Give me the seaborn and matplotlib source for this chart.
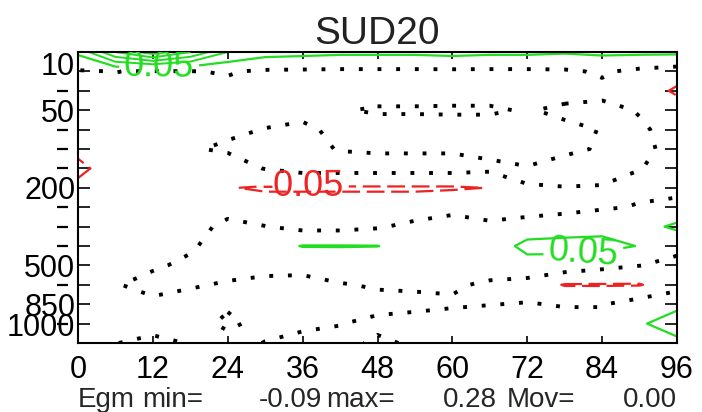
import numpy as np
import matplotlib
matplotlib.use('Agg')
import matplotlib.pyplot as plt
import seaborn as sns

sns.set_theme(style='ticks')
plt.rcParams['font.family'] = ['Liberation Sans', 'DejaVu Sans']

# forecast hour (x) and pressure levels (y, one row each)
hours = [0, 6, 12, 18, 24, 30, 36, 42, 48, 54, 60, 66, 72, 78, 84, 90, 96]
levels_hpa = [10, 20, 30, 50, 70, 100, 150, 200, 250, 300, 400, 500, 700, 850, 925, 1000]
ylabels = ['10', '', '-', '50', '-', '-', '-', '200', '-', '-', '-', '500', '-', '850', '-', '1000']
xticks = [0, 12, 24, 36, 48, 60, 72, 84, 96]

# field values, one list per level
p10 = [0.06, 0.2, 0.28, 0.2, 0.1, 0.07, 0.065, 0.06, 0.06, 0.06, 0.065, 0.06, 0.06, 0.055, 0.06, 0.06, 0.06]
p20 = [-0.004, 0.001, -0.005, -0.002, 0.003, -0.006, -0.007, -0.008, -0.008, -0.008, -0.008, -0.008, -0.008, -0.006, 0.005, -0.01, -0.02]
p30 = [-0.015, -0.015, -0.015, -0.012, -0.01, -0.012, -0.015, -0.012, -0.012, -0.012, -0.01, -0.01, -0.012, -0.012, -0.01, -0.015, -0.06]
p50 = [-0.02, -0.02, -0.02, -0.015, -0.012, -0.012, -0.012, -0.002, 0.003, 0.003, 0.003, 0.003, -0.002, 0.006, 0.01, -0.002, -0.02]
p70 = [-0.02, -0.02, -0.02, -0.01, -0.006, 0.001, 0.008, -0.01, -0.012, -0.012, -0.01, -0.01, -0.01, -0.006, 0.001, 0.004, -0.01]
p100 = [-0.04, -0.025, -0.025, -0.003, 0.005, 0.01, 0.01, -0.002, -0.005, -0.005, -0.005, -0.012, -0.03, -0.004, 0.002, 0.006, -0.008]
p150 = [-0.06, -0.03, -0.03, -0.02, -0.02, 0.002, 0.017, 0.017, 0.017, 0.017, 0.017, 0.01, 0.004, 0.008, 0.006, 0.001, -0.01]
p200 = [-0.04, -0.025, -0.03, -0.035, -0.048, -0.055, -0.055, -0.055, -0.055, -0.055, -0.055, -0.049, -0.001, -0.0005, -0.001, -0.01, -0.012]
p250 = [-0.02, -0.02, -0.025, -0.02, -0.012, -0.03, -0.03, -0.03, -0.03, -0.03, -0.012, -0.014, -0.03, -0.015, -0.005, 0.003, 0.012]
p300 = [-0.015, -0.015, -0.02, -0.012, 0.008, 0.001, -0.013, -0.013, -0.005, 0.013, 0.018, 0.006, 0.03, 0.03, 0.035, 0.03, 0.06]
p400 = [-0.012, -0.012, -0.012, -0.004, 0.015, 0.03, 0.052, 0.052, 0.051, 0.03, 0.025, 0.03, 0.06, 0.065, 0.065, 0.048, 0.01]
p500 = [-0.01, -0.01, -0.004, 0.006, 0.008, 0.011, 0.01, 0.018, 0.015, 0.015, 0.012, 0.02, 0.037, 0.0285, 0.0133, 0.001, -0.01]
p700 = [-0.008, -0.002, 0.01, 0.002, -0.002, -0.009, -0.01, -0.002, 0.003, 0.0035, 0.005, -0.006, -0.02, -0.053, -0.053, -0.053, -0.02]
p850 = [-0.01, -0.01, -0.007, -0.008, -0.004, -0.012, -0.012, -0.008, -0.009, -0.0065, -0.005, -0.001, 0.0022, -0.003, -0.003, 0.0227, 0.04]
p925 = [-0.01, -0.012, -0.015, -0.012, 0.006, -0.01, -0.004, -0.001, 0.007, 0.01, 0.02, 0.02, 0.02, 0.017, 0.017, 0.045, 0.07]
p1000 = [-0.01, -0.001, 0.01, -0.002, -0.01, 0.001, 0.006, 0.009, -0.005, 0.004, 0.01, 0.012, 0.015, 0.015, 0.015, 0.03, 0.04]

Z = np.array([p10, p20, p30, p50, p70, p100, p150, p200, p250, p300,
              p400, p500, p700, p850, p925, p1000])
X, Y = np.meshgrid(hours, np.arange(len(levels_hpa)))

green = '#22dd22'
red = '#ee2222'

fig = plt.figure(figsize=(7.02, 4.12), dpi=100)
ax = fig.add_axes([78/702, 1 - 343/412, 599/702, 291/412])

cs0 = ax.contour(X, Y, Z, levels=[0.0], colors='black', linewidths=2.8,
                 linestyles=[(0, (1, 3.8))])
ax.contour(X, Y, Z, levels=[0.10, 0.15, 0.20, 0.25], colors=green, linewidths=1.4)
csp = ax.contour(X, Y, Z, levels=[0.05], colors=green, linewidths=1.6)
csn = ax.contour(X, Y, Z, levels=[-0.05], colors=red, linewidths=1.6,
                 linestyles=[(0, (8, 3))])
ax.clabel(csp, fmt='%.2f', fontsize=26, inline=True, manual=[(13, 0.8), (81, 10.3)])
ax.clabel(csn, fmt='%.2f', fontsize=26, inline=True, manual=[(36, 7.05)])

ax.set_xlim(0, 96)
ax.set_ylim(len(levels_hpa) - 1, 0)
ax.set_xticks(xticks)
ax.set_xticklabels([str(t) for t in xticks])

# numbered levels get text labels, the unnumbered ones a short bar
ax.set_yticks(range(len(levels_hpa)))
ax.set_yticklabels([s if s != '-' else '' for s in ylabels])
for lbl in ax.get_yticklabels():
    if lbl.get_text() == '10':
        lbl.set_va('top')
    elif lbl.get_text() == '1000':
        lbl.set_va('bottom')
ytr = ax.get_yaxis_transform()
for i, s in enumerate(ylabels):
    if s == '-':
        ax.plot([-0.035, -0.017], [i, i], color='black', lw=1.6,
                transform=ytr, clip_on=False, solid_capstyle='butt')

ax.tick_params(axis='x', direction='in', length=5, width=1.2, top=True,
               labelsize=22, pad=9, colors='black')
ax.tick_params(axis='y', direction='in', length=8.5, width=1.2, right=True,
               labelsize=22, pad=2, colors='black')
for s in ax.spines.values():
    s.set_linewidth(1.5)
    s.set_color('black')

ax.set_title('SUD20', fontsize=28, pad=6, color='#222222')

ty = 0.012
fig.text(78/702, ty, 'Egm', fontsize=20, ha='left', va='baseline')
fig.text(142/702, ty, 'min=', fontsize=20, ha='left', va='baseline')
fig.text(322/702, ty, '-0.09', fontsize=20, ha='right', va='baseline')
fig.text(326/702, ty, 'max=', fontsize=20, ha='left', va='baseline')
fig.text(497/702, ty, '0.28', fontsize=20, ha='right', va='baseline')
fig.text(507/702, ty, 'Mov=', fontsize=20, ha='left', va='baseline')
fig.text(677/702, ty, '0.00', fontsize=20, ha='right', va='baseline')

fig.savefig('out.png', dpi=100)
